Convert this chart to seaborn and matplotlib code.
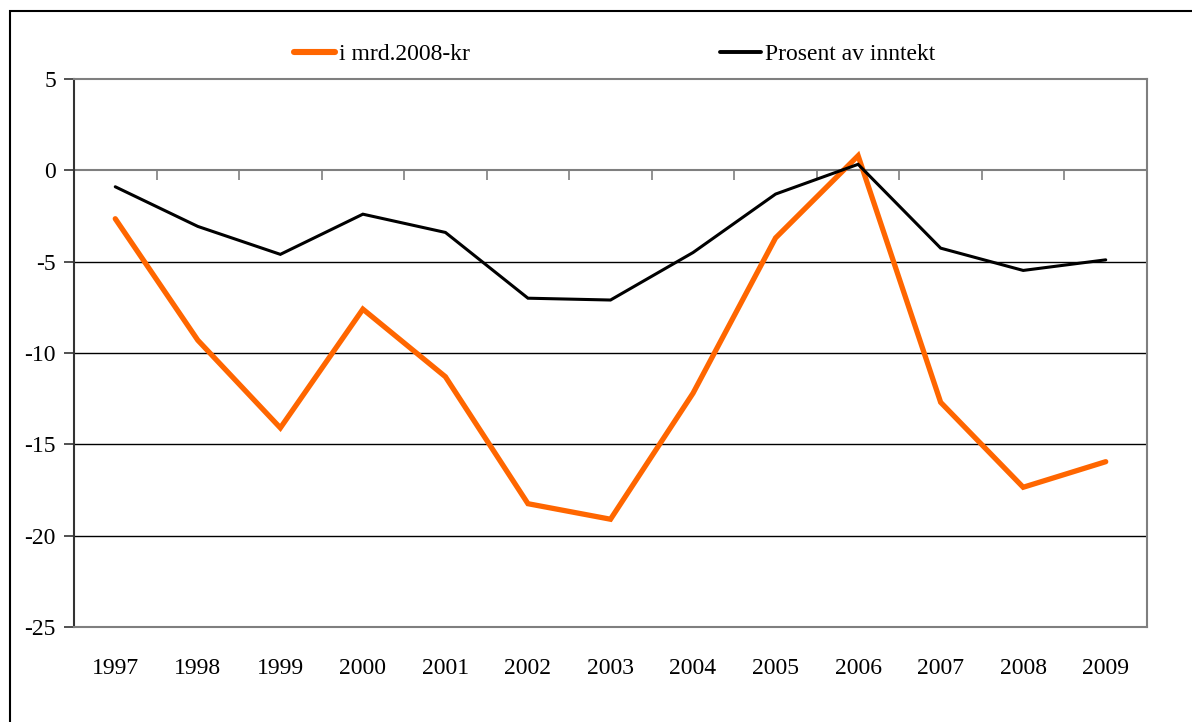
import matplotlib
matplotlib.use("Agg")
import matplotlib.pyplot as plt
import seaborn as sns
import pandas as pd
from matplotlib.patches import Rectangle
from matplotlib.lines import Line2D

years = ["1997", "1998", "1999", "2000", "2001", "2002", "2003",
         "2004", "2005", "2006", "2007", "2008", "2009"]
mrd_2008_kr = [-2.65, -9.3, -14.1, -7.6, -11.3, -18.25, -19.1,
               -12.2, -3.7, 0.8, -12.7, -17.35, -15.95]
prosent_av_inntekt = [-0.9, -3.07, -4.6, -2.4, -3.4, -7.0, -7.1,
                      -4.5, -1.3, 0.33, -4.26, -5.48, -4.9]
series_names = ["i mrd.2008-kr", "Prosent av inntekt"]
y_ticks = [5, 0, -5, -10, -15, -20, -25]

sns.set_theme(style="white")
plt.rcParams["font.family"] = ["Liberation Serif", "DejaVu Serif"]
plt.rcParams["axes.unicode_minus"] = False
plt.rcParams["text.color"] = "black"
plt.rcParams["xtick.labelcolor"] = "black"
plt.rcParams["ytick.labelcolor"] = "black"

df = pd.DataFrame({
    "year": years * 2,
    "value": mrd_2008_kr + prosent_av_inntekt,
    "series": [series_names[0]] * len(years) + [series_names[1]] * len(years),
})
df["pos"] = list(range(len(years))) * 2

fig = plt.figure(figsize=(11.92, 7.22), dpi=100)
ax = fig.add_axes([74 / 1192, 1 - 627 / 722, (1147 - 74) / 1192, (627 - 79) / 722])

colors = {series_names[0]: "#FF6600", series_names[1]: "#000000"}
widths = {series_names[0]: 3.8, series_names[1]: 2.2}
for name in series_names:
    sub = df[df["series"] == name]
    sns.lineplot(data=sub, x="pos", y="value", color=colors[name],
                 linewidth=widths[name], ax=ax, legend=False,
                 solid_joinstyle="miter", zorder=3)

ax.set_xlim(-0.5, len(years) - 0.5)
ax.set_ylim(-25, 5)
ax.set_xlabel("")
ax.set_ylabel("")

# y axis
ax.set_yticks(y_ticks)
ax.set_yticklabels([str(v) for v in y_ticks], fontsize=17, color="black")
ax.tick_params(axis="y", direction="out", length=7, width=1.2, color="#333333",
               pad=6, left=True)
for v in y_ticks:
    if v not in (0, 5, -25):
        ax.axhline(v, color="#000000", linewidth=1.0, zorder=1)

# x labels at bottom, no ticks
ax.set_xticks(range(len(years)))
ax.set_xticklabels(years, fontsize=17, color="black")
ax.tick_params(axis="x", length=0, pad=22, bottom=False)

# spines
for s in ["top", "right", "bottom"]:
    ax.spines[s].set_color("#7f7f7f")
    ax.spines[s].set_linewidth(1.5)
ax.spines["left"].set_color("#333333")
ax.spines["left"].set_linewidth(1.5)

# category axis line at y=0 with boundary ticks pointing down
ax.axhline(0, color="#7f7f7f", linewidth=1.5, zorder=2)
sec = ax.secondary_xaxis(25 / 30)
sec.set_xticks([i + 0.5 for i in range(len(years) - 1)])
sec.set_xticklabels([])
sec.tick_params(direction="out", length=7, width=1.2, color="#7f7f7f")
for s in sec.spines.values():
    s.set_visible(False)
sec.xaxis.set_ticks_position("bottom")

# legend
handles = [Line2D([0], [0], color=colors[n], linewidth=widths[n] + 0.6) for n in series_names]
fig.legend(handles, series_names, loc="center", bbox_to_anchor=(615 / 1192, 1 - 54 / 722),
           ncol=2, frameon=False, fontsize=17, handlelength=1.7, handletextpad=0.2,
           columnspacing=10.6)

# outer chart border
fig.add_artist(Rectangle((10 / 1192, -0.2), 1.2, 1.2 - 11 / 722, transform=fig.transFigure,
                         fill=False, edgecolor="black", linewidth=1.5))

fig.savefig("out.png", dpi=100)
